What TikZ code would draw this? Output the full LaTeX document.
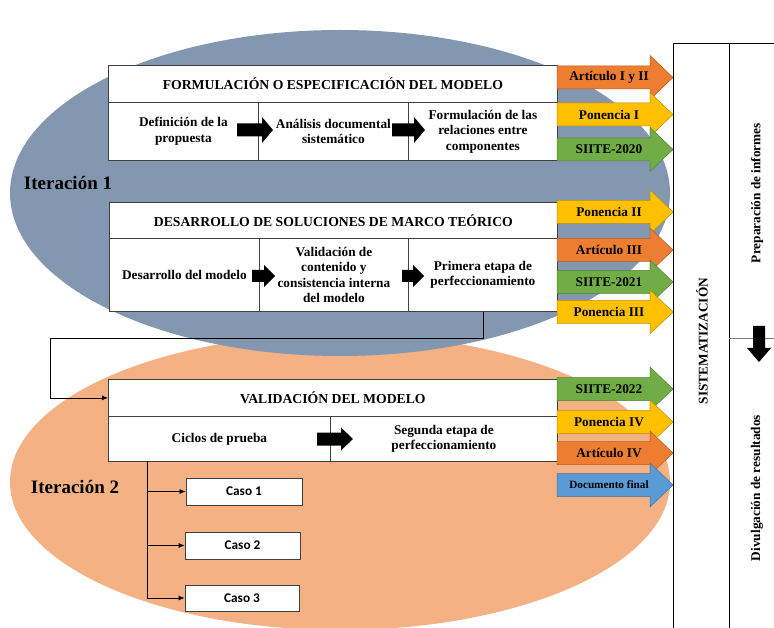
\documentclass[tikz,border=0pt]{standalone}
\usepackage{fontspec}
\setmainfont{Liberation Serif}
\newfontfamily\casofont{Carlito}
\usetikzlibrary{arrows.meta}

\definecolor{itera}{HTML}{8497B0}
\definecolor{iterb}{HTML}{F4B183}
\definecolor{pubor}{HTML}{ED7D31}
\definecolor{pubye}{HTML}{FFC000}
\definecolor{pubgr}{HTML}{70AD47}
\definecolor{pubbl}{HTML}{5B9BD5}
\definecolor{cellline}{HTML}{404040}

% thick black block arrow: x-start, x-tip, y-centre, shaft half, head half, head length
\newcommand\blockarrow[6]{%
  \fill[black] (#1,#3-#4) -- (#2-#6,#3-#4) -- (#2-#6,#3-#5) -- (#2,#3)
    -- (#2-#6,#3+#5) -- (#2-#6,#3+#4) -- (#1,#3+#4) -- cycle;}

% coloured publication arrow: colour, y-centre, node name, label
\newcommand\pubarrow[4]{%
  \filldraw[fill=#1, draw=#1!75!black, line width=0.5pt]
    (557,#2-11.5) -- (650,#2-11.5) -- (650,#2-22) -- (673,#2)
    -- (650,#2+22) -- (650,#2+11.5) -- (557,#2+11.5) -- cycle;
  \node[pubtxt] (#3) at (609,#2) {#4};}

\begin{document}
\begin{tikzpicture}[x=1pt,y=-1pt,
  txt/.style={font=\fontsize{13.3}{15.4}\selectfont\bfseries, align=center, inner sep=0pt},
  cell/.style={txt, draw=cellline, line width=0.8pt, fill=white, anchor=north west},
  headcell/.style={cell, font=\fontsize{13.7}{15.4}\selectfont\bfseries},
  pubtxt/.style={font=\fontsize{13.3}{15}\selectfont\bfseries, inner sep=0pt},
  itlab/.style={font=\fontsize{19}{22}\selectfont\bfseries, inner sep=0pt},
  casobox/.style={draw=cellline, line width=0.8pt, fill=white, inner sep=0pt,
    font=\casofont\fontsize{13.3}{15}\selectfont\bfseries},
  conn/.style={draw=black, line width=0.8pt},
  tip/.style={-{Latex[length=6pt,width=5pt]}}
]
\useasboundingbox (0,0) rectangle (774,628);
\fill[white] (0,0) rectangle (774,628);

% the two iterations
\fill[iterb] (340,482) ellipse [x radius=330pt, y radius=148pt];
\fill[itera] (340,193) ellipse [x radius=330pt, y radius=163pt];

\node[itlab] (it1) at (68,183) {Iteración 1};
\node[itlab] (it2) at (75,487) {Iteración 2};

% formulation block
\node[headcell, minimum width=449pt, minimum height=37pt] (fhead) at (108,65)
  {FORMULACIÓN O ESPECIFICACIÓN DEL MODELO};
\node[cell, minimum width=150pt, minimum height=58pt] (f1) at (108,102)
  {Definición de la\\propuesta};
\node[cell, minimum width=150pt, minimum height=58pt] (f2) at (258,102)
  {Análisis documental\\sistemático};
\node[cell, minimum width=149pt, minimum height=58pt] (f3) at (408,102)
  {Formulación de las\\relaciones entre\\componentes};
\blockarrow{237}{273}{130}{6.5}{13}{11}
\blockarrow{392}{425}{130}{6.5}{13}{11}

% theoretical framework block
\node[headcell, minimum width=448pt, minimum height=36pt] (dhead) at (109,202)
  {DESARROLLO DE SOLUCIONES DE MARCO TEÓRICO};
\node[cell, minimum width=150pt, minimum height=73pt] (d1) at (109,238)
  {Desarrollo del modelo};
\node[cell, minimum width=149pt, minimum height=73pt] (d2) at (259,238)
  {Validación de\\contenido y\\consistencia interna\\del modelo};
\node[cell, minimum width=149pt, minimum height=73pt] (d3) at (408,238)
  {Primera etapa de\\perfeccionamiento};
\blockarrow{252}{275}{276}{6}{11}{11}
\blockarrow{402}{424}{276}{6}{11}{11}

% validation block
\node[headcell, minimum width=449pt, minimum height=37pt] (vhead) at (108,379)
  {VALIDACIÓN DEL MODELO};
\node[cell, minimum width=222pt, minimum height=45pt] (v1) at (108,416)
  {Ciclos de prueba};
\node[cell, minimum width=227pt, minimum height=45pt] (v2) at (330,416)
  {Segunda etapa de\\perfeccionamiento};
\blockarrow{317}{353}{439}{6.5}{11.5}{12}

% link from the first iteration to the second
\coordinate (bend) at (50,338);
\draw[conn] (d3.south) |- (bend);
\draw[conn, tip] (bend) |- (vhead.west);

% test cases
\node[casobox, minimum width=116pt, minimum height=27pt] (caso1) at (244,491.5) {Caso 1};
\node[casobox, minimum width=115pt, minimum height=27pt] (caso2) at (242.5,545.5) {Caso 2};
\node[casobox, minimum width=114pt, minimum height=26pt] (caso3) at (242,598) {Caso 3};
\coordinate (trunk) at (147,461);
\draw[conn, tip] (trunk) |- (caso3.west);
\draw[conn, tip] (trunk |- caso1.west) -- (caso1.west);
\draw[conn, tip] (trunk |- caso2.west) -- (caso2.west);

% publications
\pubarrow{pubor}{77.5}{p1}{Artículo I y II}
\pubarrow{pubye}{114.5}{p2}{Ponencia I}
\pubarrow{pubgr}{149.5}{p3}{SIITE-2020}
\pubarrow{pubye}{212}{p4}{Ponencia II}
\pubarrow{pubor}{250}{p5}{Artículo III}
\pubarrow{pubgr}{282}{p6}{SIITE-2021}
\pubarrow{pubye}{312}{p7}{Ponencia III}
\pubarrow{pubgr}{389}{p8}{SIITE-2022}
\pubarrow{pubye}{422}{p9}{Ponencia IV}
\pubarrow{pubor}{453}{p10}{Artículo IV}
\filldraw[fill=pubbl, draw=pubbl!75!black, line width=0.5pt]
  (557,473.5) -- (650,473.5) -- (650,463) -- (673,485)
  -- (650,507) -- (650,496.5) -- (557,496.5) -- cycle;
\node[pubtxt, font=\fontsize{11.2}{13}\selectfont\bfseries] (p11) at (609,485) {Documento final};

% systematisation panel
\draw[line width=0.8pt] (673,628) -- (673,43) -- (774,43);
\draw[line width=0.8pt] (729,43) -- (729,628);
\draw[line width=0.8pt, gray] (729,338) -- (774,338);
\fill[black] (753,326) -- (765,326) -- (765,348) -- (771,348) -- (759,362)
  -- (747,348) -- (753,348) -- cycle;
\node[txt, rotate=90] (sis) at (702,341) {SISTEMATIZACIÓN};
\node[txt, rotate=90] (prep) at (757,193) {Preparación de informes};
\node[txt, rotate=90] (div) at (757,488) {Divulgación de resultados};
\end{tikzpicture}
\end{document}
